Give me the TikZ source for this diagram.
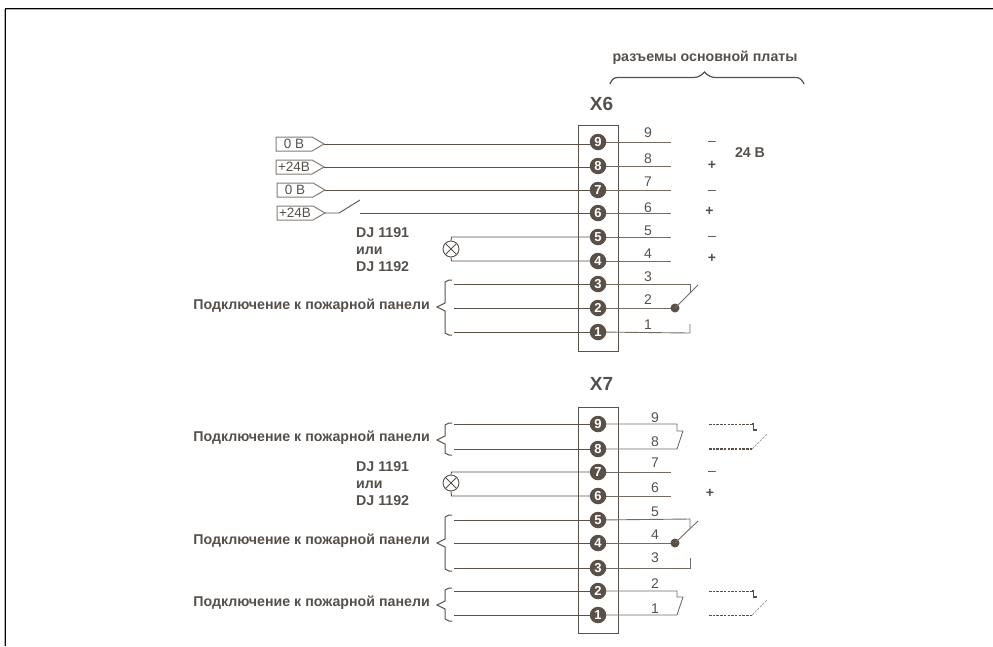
\documentclass[tikz,border=0pt]{standalone}
\usepackage{fontspec}
\setmainfont{Liberation Sans}
\definecolor{ink}{HTML}{5A5048}
\definecolor{txt}{HTML}{55504C}
\tikzset{x=1pt,y=-1pt,
  wire/.style={draw=ink,line width=.9pt},
  thin wire/.style={draw=ink!85,line width=.9pt},
  dash wire/.style={draw=ink,line width=.9pt,dash pattern=on 2.5pt off 1.2pt},
  pin/.style={circle,fill=ink,minimum size=16.5pt,inner sep=0pt,text=white,font=\bfseries\fontsize{13}{13}\selectfont},
  blab/.style={text=txt,font=\bfseries\fontsize{14.2}{17}\selectfont,inner sep=0pt},
  num/.style={text=txt,font=\fontsize{14}{14}\selectfont,inner sep=0pt},
  tag/.style={text=txt,font=\fontsize{13.5}{14}\selectfont,inner sep=0pt},
  sign/.style={text=txt,font=\bfseries\fontsize{14}{14}\selectfont,inner sep=0pt},
  head/.style={text=txt,font=\bfseries\fontsize{19}{19}\selectfont,inner sep=0pt},
  cbox/.style={draw=ink,line width=1pt},
  lamp/.style={circle,draw=ink,line width=.9pt,minimum size=16pt,inner sep=0pt,path picture={\draw[ink,line width=.9pt] (path picture bounding box.north west)--(path picture bounding box.south east) (path picture bounding box.north east)--(path picture bounding box.south west);}},
  dotn/.style={circle,fill=ink,minimum size=9pt,inner sep=0pt},
}
\newcommand{\tagshape}[4]{% name, x, y, text
  \coordinate (#1) at (#2+48,#3);
  \draw[draw=ink!75,line width=1pt] (#2,#3-7)--(#2+36,#3-7)--(#2+48,#3)--(#2+36,#3+7)--(#2,#3+7)--cycle;
  \node[tag] at (#2+18,#3) {#4};
}
\newcommand{\leftbrace}[3]{% top, mid, bottom
  \draw[ink,line width=1pt] (452,#1)--(449,#1)--(445,#1+2)--(445,#2-4)--(437,#2)--(445,#2+4)--(445,#3-2)--(449,#3)--(452,#3);
}
\begin{document}
\begin{tikzpicture}
\useasboundingbox (0,0) rectangle (993,646);
\draw[gray!60,line width=1.2pt] (4.6,646)--(4.6,9.6)--(993,9.6);
\draw[black,line width=1pt] (5.8,646)--(5.8,8.5)--(993,8.5);
% connector boxes
\draw[cbox] (578,125) rectangle (618.5,351);
\draw[cbox] (578,407) rectangle (618.5,633);
% headers
\node[blab] (hdr) at (705,58) {разъемы основной платы};
\draw[ink,line width=1.2pt] (610,84) .. controls (612,79) and (614,77.5) .. (618,77.5) -- (694,77.5) .. controls (698,77.5) and (702,75) .. (704.5,72) .. controls (707,75) and (711,77.5) .. (715,77.5) -- (796,77.5) .. controls (800,77.5) and (802,80) .. (804,84);
\node[head] (x6) at (601.5,104) {X6};
\node[head] (x7) at (601.5,384) {X7};
% pin numbers
\foreach \n/\y in {9/133,8/159,7/182,6/208,5/231,4/254,3/277,2/300,1/325}{
  \node[num] (a\n) at (648,\y) {\n};
}
\foreach \n/\y in {9/418,8/442,7/463,6/488,5/512,4/535,3/558,2/584,1/609}{
  \node[num] (b\n) at (655,\y) {\n};
}
% left tags
\tagshape{t9}{276}{144}{0 В}
\tagshape{t8}{276}{167}{+24В}
\tagshape{t7}{277}{190}{0 В}
\tagshape{t6}{277}{213}{+24В}
\coordinate (sw1) at (339,213);
\coordinate (sw2) at (360,200);
\coordinate (sw3) at (360,213);
% lamps
\node[lamp] (l6) at (451,249) {};
\coordinate (l6t) at (451.5,237);
\coordinate (l6b) at (451.5,261);
\node[lamp] (l7) at (451,483) {};
\coordinate (l7t) at (451.5,472);
\coordinate (l7b) at (451.5,496);
% wire ends at the pins
\coordinate (la9) at (598,144);
\coordinate (la8) at (598,167);
\foreach \n/\y in {9/142,8/166,7/190,6/213,5/237,4/261,3/284,2/308,1/332}{
  \coordinate (pa\n) at (598,\y);
}
\foreach \n/\y in {9/424,8/449,7/472,6/496,5/520,4/543,3/568,2/591,1/615}{
  \coordinate (pb\n) at (598,\y);
}
% free ends by the braces
\foreach \n/\y in {3/284,2/308,1/332}{\coordinate (ea\n) at (454,\y);}
\foreach \n/\y in {9/424,8/449,5/520,4/543,3/568,2/591,1/615}{\coordinate (eb\n) at (454,\y);}
% wires left X6
\draw[wire] (t9)--(la9);
\draw[wire] (t8)--(la8);
\draw[wire] (t7)--(pa7);
\draw[wire] (t6)--(sw1)--(sw2);
\draw[wire] (sw3)--(pa6);
\draw[wire] (l6.north)--(l6t)--(pa5);
\draw[wire] (l6.south)--(l6b)--(pa4);
\foreach \n in {3,2,1}{\draw[wire] (ea\n)--(pa\n);}
% wires left X7
\foreach \n in {9,8,5,4,3,2,1}{\draw[wire] (eb\n)--(pb\n);}
\draw[wire] (l7.north)--(l7t)--(pb7);
\draw[wire] (l7.south)--(l7b)--(pb6);
% wires right X6
\foreach \n in {9,8,7,6,5,4}{\draw[thin wire] (pa\n)--++(73,0);}
\draw[thin wire] (pa3)--(690,284)--(690,292);
\draw[thin wire] (pa2)--(675,308);
\node[dotn] (d6) at (675,308) {};
\draw[thin wire] (d6.center)--(698,285);
\draw[thin wire] (pa1)--(690,333)--(690,324);
% wires right X7
\draw[thin wire] (pb9)--(677,424)--(677,431)--(683,431)--(677,449)--(pb8);
\foreach \n in {7,6}{\draw[thin wire] (pb\n)--++(73,0);}
\draw[thin wire] (pb5)--(690,519)--(690,528);
\draw[thin wire] (pb4)--(675,543);
\node[dotn] (d7) at (675,543) {};
\draw[thin wire] (d7.center)--(698,521);
\draw[thin wire] (pb3)--(690,568)--(690,558);
\draw[thin wire] (pb2)--(677,591)--(677,597)--(683,597)--(677,615)--(pb1);
% pin circles
\foreach \n/\y in {9/142,8/166,7/190,6/213,5/237,4/261,3/284,2/308,1/332}{
  \node[pin] at (598,\y) {\n};
}
\foreach \n/\y in {9/424,8/449,7/472,6/496,5/520,4/543,3/568,2/591,1/615}{
  \node[pin] at (598,\y) {\n};
}
% dashed contacts
\draw[dash wire] (709,424)--(752,424);
\draw[ink,line width=1.4pt] (752,424)--(753.5,424)--(753.5,430)--(757,430);
\draw[dash wire,line width=1.3pt] (709,449)--(752,449);
\draw[dash wire,draw=ink!60,line width=.7pt] (752,449)--(767,434);
\draw[dash wire] (709,591)--(752,591);
\draw[ink,line width=1.4pt] (752,591)--(753.5,591)--(753.5,597)--(757,597);
\draw[dash wire] (709,615)--(752,615);
\draw[dash wire,draw=ink!60,line width=.7pt] (752,615)--(767,600);
% signs
\foreach \p/\s in {{712,165}/+,{709.5,211}/+,{712,258}/+,{710,493}/+}{
  \node[sign] at (\p) {\s};
}
\foreach \p in {{712,143.5},{712,192},{712,238},{712,473.5}}{
  \node[num] at (\p) {–};
}
\node[blab] (v24) at (750,153) {24 В};
% left labels
\foreach \y in {250,484}{
  \node[blab,align=left,anchor=west] at (356,\y) {DJ 1191\\или\\DJ 1192};
}
\node[blab,anchor=east] (p1) at (430,306) {Подключение к пожарной панели};
\node[blab,anchor=east] (p2) at (430,438) {Подключение к пожарной панели};
\node[blab,anchor=east] (p3) at (430,541) {Подключение к пожарной панели};
\node[blab,anchor=east] (p4) at (430,603) {Подключение к пожарной панели};
% braces
\leftbrace{280}{307}{335}
\leftbrace{423}{440}{455}
\leftbrace{515}{543}{571}
\leftbrace{588}{605}{621}
\end{tikzpicture}
\end{document}
